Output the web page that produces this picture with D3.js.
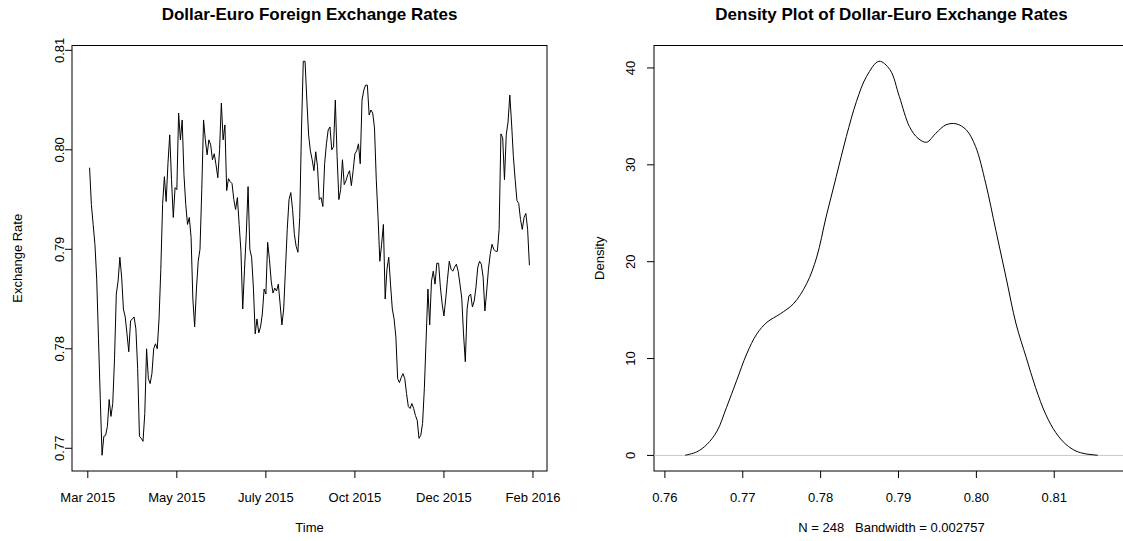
<!DOCTYPE html>
<html>
<head>
<meta charset="utf-8">
<script src="https://cdn.jsdelivr.net/npm/d3@7"></script>
<style>
  html, body { margin: 0; padding: 0; background: #fff; }
  svg { display: block; }
  text { font-family: "Liberation Sans", Arial, Helvetica, sans-serif; fill: #000; white-space: pre; }
</style>
</head>
<body>
<svg id="chart" width="1123" height="541"></svg>
<script>
// Daily dollar-euro exchange rate, 248 trading days (Mar 2015 - Feb 2016)
const rates = [
  0.7982, 0.7945, 0.7925, 0.7905, 0.7870, 0.7810, 0.7750, 0.7693, 0.7712, 0.7713,
  0.7722, 0.7749, 0.7732, 0.7745, 0.7790, 0.7855, 0.7868, 0.7892, 0.7872, 0.7840,
  0.7832, 0.7815, 0.7797, 0.7828, 0.7830, 0.7832, 0.7820, 0.7780, 0.7712, 0.7710,
  0.7707, 0.7735, 0.7800, 0.7770, 0.7765, 0.7775, 0.7800, 0.7805, 0.7800, 0.7830,
  0.7880, 0.7945, 0.7973, 0.7948, 0.7986, 0.8015, 0.7970, 0.7932, 0.7962, 0.7960,
  0.8037, 0.8010, 0.8030, 0.7975, 0.7945, 0.7925, 0.7932, 0.7912, 0.7850, 0.7822,
  0.7860, 0.7888, 0.7900, 0.7960, 0.8030, 0.8010, 0.7995, 0.8010, 0.8005, 0.7990,
  0.7996, 0.7985, 0.7972, 0.8000, 0.8047, 0.8010, 0.8025, 0.7959, 0.7971, 0.7968,
  0.7966, 0.7950, 0.7940, 0.7952, 0.7925, 0.7898, 0.7840, 0.7880, 0.7915, 0.7963,
  0.7900, 0.7892, 0.7861, 0.7815, 0.7830, 0.7816, 0.7822, 0.7835, 0.7860, 0.7855,
  0.7907, 0.7890, 0.7868, 0.7856, 0.7861, 0.7858, 0.7865, 0.7845, 0.7824, 0.7840,
  0.7880, 0.7920, 0.7950, 0.7957, 0.7940, 0.7915, 0.7903, 0.7897, 0.7932, 0.8020,
  0.8089, 0.8089, 0.8050, 0.8015, 0.7999, 0.7990, 0.7979, 0.7998, 0.7983, 0.7950,
  0.7952, 0.7943, 0.7986, 0.8006, 0.8020, 0.8023, 0.8000, 0.8003, 0.8050, 0.7993,
  0.7950, 0.7960, 0.7990, 0.7965, 0.7969, 0.7975, 0.7979, 0.7964, 0.7979, 0.7996,
  0.7999, 0.8006, 0.7986, 0.8050, 0.8060, 0.8065, 0.8065, 0.8035, 0.8040, 0.8037,
  0.8022, 0.7970, 0.7932, 0.7888, 0.7905, 0.7925, 0.7850, 0.7880, 0.7892, 0.7865,
  0.7840, 0.7830, 0.7812, 0.7770, 0.7766, 0.7771, 0.7775, 0.7770, 0.7755, 0.7742,
  0.7740, 0.7745, 0.7740, 0.7733, 0.7728, 0.7710, 0.7713, 0.7725, 0.7760, 0.7810,
  0.7860, 0.7824, 0.7868, 0.7878, 0.7865, 0.7886, 0.7886, 0.7862, 0.7845, 0.7833,
  0.7850, 0.7870, 0.7888, 0.7880, 0.7878, 0.7882, 0.7885, 0.7878, 0.7865, 0.7851,
  0.7815, 0.7787, 0.7840, 0.7853, 0.7855, 0.7842, 0.7848, 0.7862, 0.7882, 0.7888,
  0.7885, 0.7872, 0.7838, 0.7858, 0.7880, 0.7895, 0.7905, 0.7900, 0.7898, 0.7898,
  0.7920, 0.8016, 0.8012, 0.7970, 0.8015, 0.8028, 0.8055, 0.8026, 0.7993, 0.7970,
  0.7949, 0.7946, 0.7930, 0.7920, 0.7932, 0.7936, 0.7920, 0.7884
];

// Time-axis labels and the observation index each one sits at
const timeTickAt = [0, 50, 100, 150, 200, 250];
const timeTickLabels = ["Mar 2015", "May 2015", "July 2015", "Oct 2015", "Dec 2015", "Feb 2016"];
const rateTicks = [0.77, 0.78, 0.79, 0.80, 0.81];

// Kernel density estimate of the rates (Gaussian kernel)
const densX = [
  0.7626, 0.7641, 0.7654, 0.7667, 0.7679, 0.7692, 0.7705, 0.7718, 0.7731, 0.7748,
  0.7765, 0.7782, 0.7795, 0.7807, 0.7820, 0.7833, 0.7846, 0.7859, 0.7875, 0.7889,
  0.7901, 0.7914, 0.7925, 0.7936, 0.7948, 0.7961, 0.7974, 0.7987, 0.7999, 0.8012,
  0.8025, 0.8038, 0.8051, 0.8064, 0.8076, 0.8089, 0.8102, 0.8115, 0.8128, 0.8140,
  0.8156
];
const densY = [
  0.02, 0.37, 1.14, 2.52, 4.93, 7.70, 10.47, 12.54, 13.74, 14.61,
  15.65, 17.72, 20.48, 24.62, 28.77, 32.92, 36.54, 39.13, 40.69, 39.82,
  37.06, 33.95, 32.74, 32.33, 33.26, 34.13, 34.23, 33.61, 31.88, 28.08,
  23.24, 18.41, 13.57, 10.11, 7.01, 4.25, 2.35, 1.14, 0.45, 0.17,
  0.02
];
const densXDomain = [0.7586, 0.8196];
const densXTicks = [0.76, 0.77, 0.78, 0.79, 0.80, 0.81];
const densYTicks = [0, 10, 20, 30, 40];
const sampleSize = 248;
const bandwidth = 0.002757;

const svg = d3.select("#chart");
const plotTop = 45.5, plotBottom = 471;
const tickLen = 7;
const fs = 13;

// pad a range by 4% on each side
function padded(ext) {
  const r = ext[1] - ext[0];
  return [ext[0] - 0.04 * r, ext[1] + 0.04 * r];
}

function drawPanel(opts) {
  const g = svg.append("g");
  const { x, y, x0, x1 } = opts;

  // x ticks
  opts.xTicks.forEach((t, i) => {
    const px = x(t);
    g.append("line").attr("x1", px).attr("x2", px)
      .attr("y1", plotBottom).attr("y2", plotBottom + tickLen)
      .attr("stroke", "#000").attr("stroke-width", 1);
    g.append("text").attr("x", px).attr("y", 501.5)
      .attr("text-anchor", "middle").attr("font-size", fs)
      .text(opts.xTickLabels[i]);
  });
  // y ticks
  opts.yTicks.forEach((t, i) => {
    const py = y(t);
    g.append("line").attr("x1", x0 - tickLen).attr("x2", x0)
      .attr("y1", py).attr("y2", py)
      .attr("stroke", "#000").attr("stroke-width", 1);
    g.append("text")
      .attr("transform", `translate(${opts.yLabelX},${py}) rotate(-90)`)
      .attr("text-anchor", "middle").attr("font-size", fs)
      .text(opts.yTickLabels[i]);
  });

  // box
  g.append("rect").attr("x", x0).attr("y", plotTop)
    .attr("width", x1 - x0).attr("height", plotBottom - plotTop)
    .attr("fill", "none").attr("stroke", "#000").attr("stroke-width", 1);

  // titles
  const cx = (x0 + x1) / 2;
  g.append("text").attr("x", cx).attr("y", 20)
    .attr("text-anchor", "middle").attr("font-size", 17).attr("font-weight", "bold")
    .text(opts.title);
  g.append("text").attr("x", cx).attr("y", 532)
    .attr("text-anchor", "middle").attr("font-size", fs)
    .text(opts.xTitle);
  g.append("text")
    .attr("transform", `translate(${x0 - 50},${(plotTop + plotBottom) / 2}) rotate(-90)`)
    .attr("text-anchor", "middle").attr("font-size", fs)
    .text(opts.yTitle);
  return g;
}

// ---- Left panel: exchange rate over time ----
{
  const x0 = 72, x1 = 547;
  const x = d3.scaleLinear().domain(padded([1, rates.length])).range([x0, x1]);
  const y = d3.scaleLinear().domain(padded(d3.extent(rates))).range([plotBottom, plotTop]);
  const g = drawPanel({
    x, y, x0, x1,
    xTicks: timeTickAt, xTickLabels: timeTickLabels,
    yTicks: rateTicks, yTickLabels: rateTicks.map(d3.format(".2f")),
    yLabelX: 63.5,
    title: "Dollar-Euro Foreign Exchange Rates",
    xTitle: "Time",
    yTitle: "Exchange Rate"
  });
  const line = d3.line().x((d, i) => x(i + 1)).y(d => y(d));
  g.append("path").datum(rates).attr("d", line)
    .attr("fill", "none").attr("stroke", "#000").attr("stroke-width", 1)
    .attr("stroke-linejoin", "round");
}

// ---- Right panel: density of the rates ----
{
  const x0 = 654, x1 = 1129;
  const x = d3.scaleLinear().domain(densXDomain).range([x0, x1]);
  const y = d3.scaleLinear().domain(padded(d3.extent(densY))).range([plotBottom, plotTop]);
  const g = drawPanel({
    x, y, x0, x1,
    xTicks: densXTicks, xTickLabels: densXTicks.map(d3.format(".2f")),
    yTicks: densYTicks, yTickLabels: densYTicks.map(String),
    yLabelX: 634.5,
    title: "Density Plot of Dollar-Euro Exchange Rates",
    xTitle: `N = ${sampleSize}   Bandwidth = ${bandwidth}`,
    yTitle: "Density"
  });
  // zero reference line
  g.append("line").attr("x1", x0).attr("x2", x1)
    .attr("y1", y(0)).attr("y2", y(0))
    .attr("stroke", "#c8c8c8").attr("stroke-width", 1);
  const pts = densX.map((v, i) => [v, densY[i]]);
  const line = d3.line().curve(d3.curveCatmullRom.alpha(0.5))
    .x(d => x(d[0])).y(d => y(d[1]));
  g.append("path").datum(pts).attr("d", line)
    .attr("fill", "none").attr("stroke", "#000").attr("stroke-width", 1);
}
</script>
</body>
</html>
